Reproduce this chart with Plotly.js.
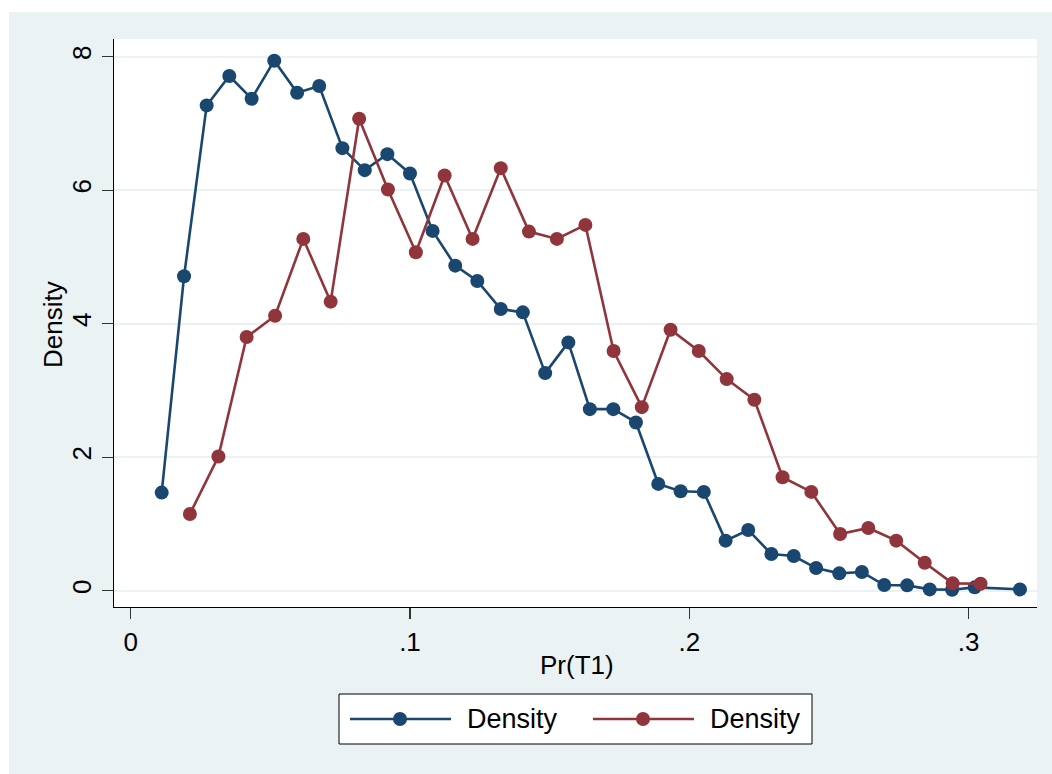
<!DOCTYPE html>
<html>
<head>
<meta charset="utf-8">
<script src="https://cdn.plot.ly/plotly-3.0.1.min.js"></script>
<style>html,body{margin:0;padding:0;background:#fff;}#chart{width:1052px;height:774px;}</style>
</head>
<body>
<div id="chart"></div>
<script>
// Series 1 (blue) — bin midpoints and densities
var blueX = [0.0111,0.0191,0.0272,0.0353,0.0433,0.0514,0.0596,0.0675,0.0758,0.0838,0.0919,0.1000,0.1081,0.1162,0.1241,0.1325,0.1404,0.1484,0.1567,0.1644,0.1728,0.1809,0.1889,0.1969,0.2052,0.2130,0.2211,0.2294,0.2374,0.2454,0.2537,0.2618,0.2698,0.2780,0.2861,0.2941,0.3022,0.3184];
var blueY = [1.47,4.71,7.27,7.71,7.37,7.94,7.46,7.56,6.63,6.30,6.54,6.25,5.39,4.87,4.64,4.22,4.17,3.26,3.72,2.72,2.72,2.52,1.60,1.49,1.48,0.75,0.91,0.55,0.52,0.34,0.26,0.28,0.085,0.08,0.02,0.015,0.05,0.02];
// Series 2 (red)
var redX = [0.0212,0.0314,0.0415,0.0517,0.0618,0.0716,0.0818,0.0921,0.1021,0.1124,0.1224,0.1325,0.1426,0.1526,0.1628,0.1729,0.1830,0.1933,0.2034,0.2134,0.2233,0.2334,0.2437,0.2540,0.2641,0.2741,0.2843,0.2943,0.3043];
var redY = [1.15,2.01,3.80,4.12,5.27,4.33,7.07,6.01,5.07,6.22,5.27,6.33,5.38,5.27,5.48,3.59,2.75,3.91,3.59,3.17,2.86,1.70,1.48,0.85,0.94,0.75,0.42,0.11,0.105];
var seriesNames = ["Density","Density"];
var xTickVals = [0,0.1,0.2,0.3];
var xTickText = ["0",".1",".2",".3"];
var yTickVals = [0,2,4,6,8];
var xTitle = "Pr(T1)";
var yTitle = "Density";

var BLUE = "#1A476F", RED = "#90353B", BG = "#EAF2F3";
var FONT = "Liberation Sans, Arial, sans-serif";

// plot area in pixels
var L = 114, R = 1037, T = 39, B = 607, W = 1052, H = 774;
function px(x){ return (x - L) / (R - L); }
function py(y){ return (B - y) / (B - T); }

var traces = [
  {x: blueX, y: blueY, type: "scatter", mode: "lines+markers", name: seriesNames[0],
   line: {color: BLUE, width: 2.6}, marker: {color: BLUE, size: 14}, showlegend: false},
  {x: redX, y: redY, type: "scatter", mode: "lines+markers", name: seriesNames[1],
   line: {color: RED, width: 2.6}, marker: {color: RED, size: 14}, showlegend: false}
];

var legY = py(719), r = 7;
var shapes = [
  {type:"rect", xref:"paper", yref:"paper", x0:px(0), x1:px(9), y0:py(H), y1:py(0), fillcolor:"#ffffff", line:{width:0}, layer:"below"},
  {type:"rect", xref:"paper", yref:"paper", x0:px(0), x1:px(W), y0:py(12), y1:py(0), fillcolor:"#ffffff", line:{width:0}, layer:"below"},
  {type:"rect", xref:"paper", yref:"paper", x0:px(339), x1:px(812), y0:py(744), y1:py(694), fillcolor:"#ffffff", line:{color:"#000", width:1}},
  {type:"line", xref:"paper", yref:"paper", x0:px(350), x1:px(451), y0:legY, y1:legY, line:{color:BLUE, width:2.6}},
  {type:"circle", xref:"paper", yref:"paper", x0:px(400-r), x1:px(400+r), y0:py(719+r), y1:py(719-r), fillcolor:BLUE, line:{color:BLUE, width:0}},
  {type:"line", xref:"paper", yref:"paper", x0:px(593), x1:px(694), y0:legY, y1:legY, line:{color:RED, width:2.6}},
  {type:"circle", xref:"paper", yref:"paper", x0:px(643-r), x1:px(643+r), y0:py(719+r), y1:py(719-r), fillcolor:RED, line:{color:RED, width:0}}
];

var annotations = [
  {text: seriesNames[0], xref:"paper", yref:"paper", x:px(465), y:legY, xanchor:"left", yanchor:"middle", showarrow:false, font:{family:FONT, size:27, color:"#000"}},
  {text: seriesNames[1], xref:"paper", yref:"paper", x:px(708), y:legY, xanchor:"left", yanchor:"middle", showarrow:false, font:{family:FONT, size:27, color:"#000"}},
  {text: xTitle, xref:"paper", yref:"paper", x:px(577), y:py(665), xanchor:"center", yanchor:"middle", showarrow:false, font:{family:FONT, size:26, color:"#000"}},
  {text: yTitle, xref:"paper", yref:"paper", x:px(53), y:py(325), xanchor:"center", yanchor:"middle", textangle:-90, showarrow:false, font:{family:FONT, size:26, color:"#000"}}
];

var layout = {
  width: W, height: H,
  margin: {l: L, r: W - R, t: T, b: H - B, pad: 0},
  paper_bgcolor: BG, plot_bgcolor: "#ffffff",
  font: {family: FONT, size: 25, color: "#000"},
  showlegend: false,
  xaxis: {
    range: [-0.00598, 0.3245], tickvals: xTickVals, ticktext: xTickText,
    showgrid: false, zeroline: false, showline: true, linecolor: "#000", linewidth: 1.3,
    ticks: "outside", ticklen: 11, tickwidth: 1.3, tickcolor: "#333",
    tickfont: {family: FONT, size: 26, color: "#000"}, automargin: false
  },
  yaxis: {
    range: [-0.244, 8.265], tickvals: yTickVals,
    showgrid: true, gridcolor: BG, gridwidth: 2, zeroline: false,
    showline: true, linecolor: "#000", linewidth: 1.3,
    ticks: "outside", ticklen: 11, tickwidth: 1.3, tickcolor: "#333", tickangle: -90,
    tickfont: {family: FONT, size: 26, color: "#000"}, automargin: false
  },
  shapes: shapes,
  annotations: annotations
};

Plotly.newPlot("chart", traces, layout, {displayModeBar: false, staticPlot: true});
</script>
</body>
</html>
